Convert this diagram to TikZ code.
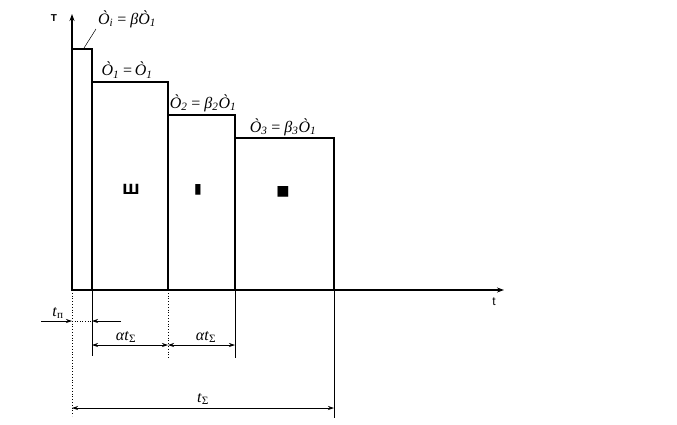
\documentclass[tikz,border=0pt]{standalone}
\usepackage{fontspec}
\setmainfont{Liberation Serif}
\newfontfamily\symfont{DejaVu Sans}
\newfontfamily\axfont{Liberation Sans}
\usetikzlibrary{arrows.meta}
\tikzset{
  px/.style={x=1pt,y=-1pt},
  bar/.style={draw,line width=1.1pt},
  axis/.style={line width=1.1pt,-{Stealth[length=7pt,width=5pt]}},
  ext/.style={line width=0.8pt},
  extdot/.style={line width=0.8pt,dotted},
  dim/.style={line width=0.7pt,{Stealth[length=6pt,width=4pt]}-{Stealth[length=6pt,width=4pt]}},
  dimr/.style={line width=0.7pt,-{Stealth[length=6pt,width=4pt]}},
  lbl/.style={inner sep=0pt,font=\fontsize{16}{18}\selectfont},
  dlbl/.style={inner sep=0pt,font=\fontsize{16}{18}\selectfont},
  rom/.style={inner sep=0pt,font=\symfont\bfseries\fontsize{14}{16}\selectfont},
}
\begin{document}
\begin{tikzpicture}[px]
\useasboundingbox (0,0) rectangle (677,424);
% key coordinates
\coordinate (O) at (72,290);
\coordinate (ytop) at (72,14);
\coordinate (xend) at (504,290);
% bars
\draw[bar] (72,290) rectangle (92,49);
\draw[bar] (92,290) rectangle (168,82);
\draw[bar] (168,290) rectangle (235,115);
\draw[bar] (235,290) rectangle (334,138);
% axes
\draw[axis] (O) -- (ytop);
\draw[axis] (O) -- (xend);
\node[inner sep=0pt,font=\axfont\bfseries\fontsize{10}{12}\selectfont] (T) at (54,18) {T};
\node[inner sep=0pt,font=\axfont\fontsize{12}{14}\selectfont] (tlab) at (494,302) {t};
% labels on bars
\node[lbl] (q0) at (127,19) {\textit{Ò}\textsubscript{\textit{i}} = \textit{β̇Ò}\textsubscript{\textit{1}}};
\coordinate (lead) at (84,48);
\coordinate (leadend) at (96,29);
\draw[line width=0.5pt] (lead) -- (leadend);
\node[lbl] (q1) at (127,70) {\textit{Ò}\textsubscript{\textit{1}} =\,\textit{Ò}\textsubscript{\textit{1}}};
\node[lbl] (q2) at (203,103) {\textit{Ò}\textsubscript{\textit{2}} = \textit{β}\textsubscript{\textit{2}}\textit{Ò}\textsubscript{\textit{1}}};
\node[lbl] (q3) at (283,127) {\textit{Ò}\textsubscript{\textit{3}} = \textit{β}\textsubscript{\textit{3}}\textit{Ò}\textsubscript{\textit{1}}};
% region marks
\node[rom] (r1) at (131,189) {Ш};
\node[rom] (r2) at (198,190) {▮};
\node[rom] (r3) at (283,192) {■};
% extension lines
\coordinate (e0) at (72,416);
\coordinate (e1) at (92,356);
\coordinate (e2) at (168,358);
\coordinate (e3) at (235,358);
\coordinate (e4) at (334,418);
\draw[extdot] (O) -- (e0);
\draw[ext] (92,290) -- (e1);
\draw[extdot] (168,290) -- (e2);
\draw[ext] (235,290) -- (e3);
\draw[ext] (334,290) -- (e4);
% t_n dimension
\coordinate (tn1) at (41,321);
\coordinate (tn2) at (72,321);
\coordinate (tn3) at (92,321);
\coordinate (tn4) at (121,321);
\draw[dimr] (tn1) -- (tn2);
\draw[dimr] (tn4) -- (tn3);
\draw[line width=0.6pt,dotted] (tn2) -- (tn3);
\node[dlbl] (tn) at (58,313) {\textit{t}\textsubscript{п}};
% alpha t dimensions
\coordinate (a1) at (92,345);
\coordinate (a2) at (168,345);
\coordinate (a3) at (235,345);
\draw[dim] (a1) -- (a2);
\draw[dim] (a2) -- (a3);
\node[dlbl,fill=white,inner xsep=1pt] (at1) at (126,337) {\textit{αt}\textsubscript{Σ}};
\node[dlbl,fill=white,inner xsep=1pt] (at2) at (206,337) {\textit{αt}\textsubscript{Σ}};
% total
\coordinate (b1) at (72,408);
\coordinate (b2) at (334,408);
\draw[dim] (b1) -- (b2);
\node[dlbl] (tz) at (203,399) {\textit{t}\textsubscript{Σ}};
\end{tikzpicture}
\end{document}
